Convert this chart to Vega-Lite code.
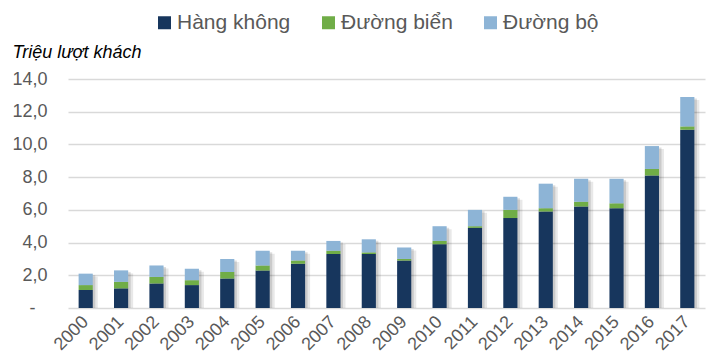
{
  "$schema": "https://vega.github.io/schema/vega-lite/v6.json",
  "width": 637,
  "height": 229,
  "autosize": "none",
  "padding": {"left": 68, "top": 79, "right": 3, "bottom": 48},
  "background": "white",
  "config": {
    "font": "Liberation Sans",
    "view": {"stroke": null},
    "axisX": {
      "labelFontSize": 18,
      "labelColor": "#595959",
      "labelOverlap": false,
      "domain": false,
      "ticks": false,
      "grid": false
    },
    "axisY": {
      "titleAngle": 0,
      "titleAlign": "left",
      "titleBaseline": "alphabetic",
      "titleX": -56,
      "titleY": -22,
      "titleFontSize": 18,
      "titleFontStyle": "italic",
      "titleFontWeight": "normal",
      "titleColor": "#000000",
      "labelFontSize": 18,
      "labelColor": "#595959",
      "labelOverlap": false,
      "ticks": false,
      "domain": false,
      "grid": true,
      "gridColor": "#d9d9d9",
      "gridWidth": 1.5
    }
  },
  "data": {
    "values": [
      {"nam": "2000", "loai": "Hàng không", "gia_tri": 1.1},
      {"nam": "2000", "loai": "Đường biển", "gia_tri": 0.3},
      {"nam": "2000", "loai": "Đường bộ", "gia_tri": 0.7},
      {"nam": "2001", "loai": "Hàng không", "gia_tri": 1.2},
      {"nam": "2001", "loai": "Đường biển", "gia_tri": 0.4},
      {"nam": "2001", "loai": "Đường bộ", "gia_tri": 0.7},
      {"nam": "2002", "loai": "Hàng không", "gia_tri": 1.5},
      {"nam": "2002", "loai": "Đường biển", "gia_tri": 0.4},
      {"nam": "2002", "loai": "Đường bộ", "gia_tri": 0.7},
      {"nam": "2003", "loai": "Hàng không", "gia_tri": 1.4},
      {"nam": "2003", "loai": "Đường biển", "gia_tri": 0.3},
      {"nam": "2003", "loai": "Đường bộ", "gia_tri": 0.7},
      {"nam": "2004", "loai": "Hàng không", "gia_tri": 1.8},
      {"nam": "2004", "loai": "Đường biển", "gia_tri": 0.4},
      {"nam": "2004", "loai": "Đường bộ", "gia_tri": 0.8},
      {"nam": "2005", "loai": "Hàng không", "gia_tri": 2.3},
      {"nam": "2005", "loai": "Đường biển", "gia_tri": 0.3},
      {"nam": "2005", "loai": "Đường bộ", "gia_tri": 0.9},
      {"nam": "2006", "loai": "Hàng không", "gia_tri": 2.7},
      {"nam": "2006", "loai": "Đường biển", "gia_tri": 0.2},
      {"nam": "2006", "loai": "Đường bộ", "gia_tri": 0.6},
      {"nam": "2007", "loai": "Hàng không", "gia_tri": 3.3},
      {"nam": "2007", "loai": "Đường biển", "gia_tri": 0.2},
      {"nam": "2007", "loai": "Đường bộ", "gia_tri": 0.6},
      {"nam": "2008", "loai": "Hàng không", "gia_tri": 3.3},
      {"nam": "2008", "loai": "Đường biển", "gia_tri": 0.1},
      {"nam": "2008", "loai": "Đường bộ", "gia_tri": 0.8},
      {"nam": "2009", "loai": "Hàng không", "gia_tri": 2.9},
      {"nam": "2009", "loai": "Đường biển", "gia_tri": 0.1},
      {"nam": "2009", "loai": "Đường bộ", "gia_tri": 0.7},
      {"nam": "2010", "loai": "Hàng không", "gia_tri": 3.9},
      {"nam": "2010", "loai": "Đường biển", "gia_tri": 0.2},
      {"nam": "2010", "loai": "Đường bộ", "gia_tri": 0.9},
      {"nam": "2011", "loai": "Hàng không", "gia_tri": 4.9},
      {"nam": "2011", "loai": "Đường biển", "gia_tri": 0.1},
      {"nam": "2011", "loai": "Đường bộ", "gia_tri": 1.0},
      {"nam": "2012", "loai": "Hàng không", "gia_tri": 5.5},
      {"nam": "2012", "loai": "Đường biển", "gia_tri": 0.5},
      {"nam": "2012", "loai": "Đường bộ", "gia_tri": 0.8},
      {"nam": "2013", "loai": "Hàng không", "gia_tri": 5.9},
      {"nam": "2013", "loai": "Đường biển", "gia_tri": 0.2},
      {"nam": "2013", "loai": "Đường bộ", "gia_tri": 1.5},
      {"nam": "2014", "loai": "Hàng không", "gia_tri": 6.2},
      {"nam": "2014", "loai": "Đường biển", "gia_tri": 0.3},
      {"nam": "2014", "loai": "Đường bộ", "gia_tri": 1.4},
      {"nam": "2015", "loai": "Hàng không", "gia_tri": 6.1},
      {"nam": "2015", "loai": "Đường biển", "gia_tri": 0.3},
      {"nam": "2015", "loai": "Đường bộ", "gia_tri": 1.5},
      {"nam": "2016", "loai": "Hàng không", "gia_tri": 8.1},
      {"nam": "2016", "loai": "Đường biển", "gia_tri": 0.4},
      {"nam": "2016", "loai": "Đường bộ", "gia_tri": 1.4},
      {"nam": "2017", "loai": "Hàng không", "gia_tri": 10.9},
      {"nam": "2017", "loai": "Đường biển", "gia_tri": 0.2},
      {"nam": "2017", "loai": "Đường bộ", "gia_tri": 1.8}
    ]
  },
  "encoding": {
    "x": {
      "field": "nam",
      "type": "ordinal",
      "title": null,
      "scale": {"paddingInner": 0.6, "paddingOuter": 0.3},
      "axis": {
        "labelAngle": 315,
        "labelAlign": "right",
        "labelBaseline": "middle",
        "labelPadding": 11
      }
    }
  },
  "layer": [
    {
      "mark": {"type": "bar", "color": "#000000", "opacity": 0.09, "xOffset": 5, "yOffset": 3},
      "encoding": {
        "y": {
          "aggregate": "sum", "field": "gia_tri", "type": "quantitative", "title": "Triệu lượt khách",
          "scale": {"domain": [0, 14]},
          "axis": {
            "values": [0, 2, 4, 6, 8, 10, 12, 14],
            "labelExpr": "datum.value == 0 ? '-' : replace(format(datum.value, '.1f'), '.', ',')",
            "labelPadding": {"expr": "datum.value == 0 ? 33 : 21"}
          }
        }
      }
    },
    {
      "mark": {"type": "bar", "color": "#000000", "opacity": 0.13, "xOffset": 2.5, "yOffset": 1.5},
      "encoding": {
        "y": {
          "aggregate": "sum", "field": "gia_tri", "type": "quantitative", "title": "Triệu lượt khách",
          "scale": {"domain": [0, 14]},
          "axis": {
            "values": [0, 2, 4, 6, 8, 10, 12, 14],
            "labelExpr": "datum.value == 0 ? '-' : replace(format(datum.value, '.1f'), '.', ',')",
            "labelPadding": {"expr": "datum.value == 0 ? 33 : 21"}
          }
        }
      }
    },
    {
      "mark": {"type": "bar"},
      "encoding": {
        "y": {
          "field": "gia_tri", "type": "quantitative", "stack": "zero", "title": "Triệu lượt khách",
          "scale": {"domain": [0, 14]},
          "axis": {
            "values": [0, 2, 4, 6, 8, 10, 12, 14],
            "labelExpr": "datum.value == 0 ? '-' : replace(format(datum.value, '.1f'), '.', ',')",
            "labelPadding": {"expr": "datum.value == 0 ? 33 : 21"}
          }
        },
        "order": {"field": "loai", "sort": "ascending"},
        "color": {
          "field": "loai",
          "type": "nominal",
          "scale": {
            "domain": ["Hàng không", "Đường biển", "Đường bộ"],
            "range": ["#17365d", "#70ad47", "#8db4d6"]
          },
          "legend": {
            "title": null,
            "orient": "none",
            "direction": "horizontal",
            "legendX": 86,
            "legendY": -67,
            "symbolType": "square",
            "symbolSize": 169,
            "symbolStrokeWidth": 0,
            "labelFontSize": 21,
            "labelColor": "#595959",
            "labelOffset": 2,
            "columnPadding": 27,
            "labelLimit": 200
          }
        }
      }
    }
  ]
}
